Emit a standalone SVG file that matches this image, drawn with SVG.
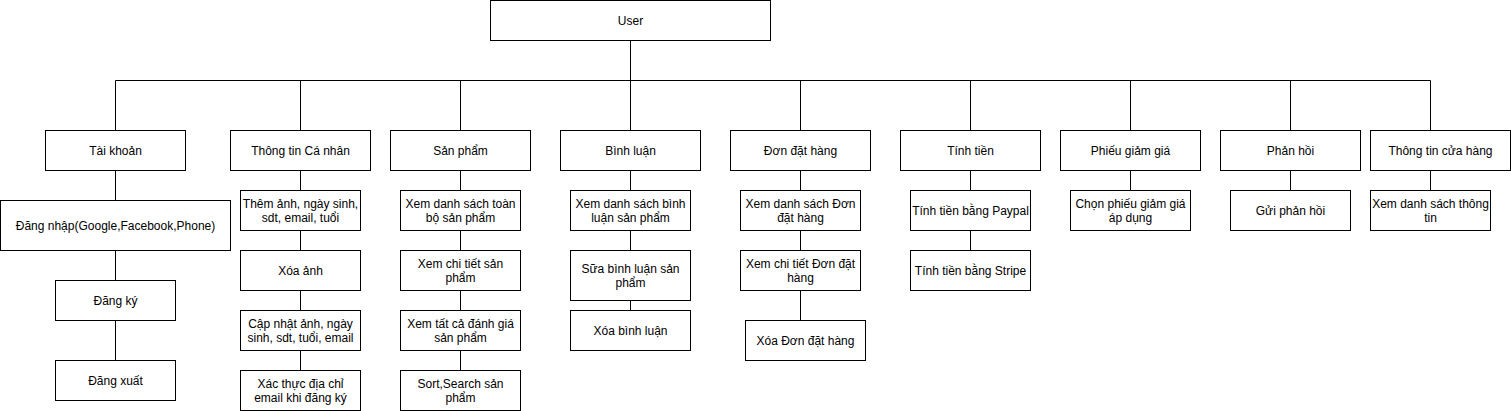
<svg xmlns="http://www.w3.org/2000/svg" width="1511" height="411" viewBox="0 0 1511 411">
<style>
rect{fill:#fff;stroke:#000;stroke-width:1}
text{font-family:"Liberation Sans",Arial,sans-serif;font-size:12px;fill:#000;text-anchor:middle}
.c{fill:none;stroke:#000;stroke-width:1}
</style>
<rect x="-1" y="-1" width="1513" height="413" style="stroke:none;fill:#fff"/>
<g transform="translate(0.5,0.5)">
<g id="connectors">
<path class="c" d="M630,40V80M115,80H1430M115,80V130M300,80V130M460,80V130M630,80V130M800,80V130M970,80V130M1130,80V130M1290,80V130M1430,80V130
M115,170V200M115,250V280M115,320V360
M300,170V190M300,230V250M300,290V310M300,350V370
M460,170V190M460,230V250M460,290V310M460,350V370
M630,170V190M630,230V250M630,300V310
M800,170V190M800,230V250M800,290V320
M970,170V190M970,230V250
M1130,170V190M1290,170V190M1430,170V190"/>
</g>
<g id="user"><rect x="490" y="0" width="280" height="40"/><text x="630" y="24">User</text></g>
<g id="tai-khoan"><rect x="45" y="130" width="140" height="40"/><text x="115" y="154">Tài khoản</text></g>
<g id="thong-tin-ca-nhan"><rect x="230" y="130" width="140" height="40"/><text x="300" y="154">Thông tin Cá nhân</text></g>
<g id="san-pham"><rect x="390" y="130" width="140" height="40"/><text x="460" y="154">Sản phẩm</text></g>
<g id="binh-luan"><rect x="560" y="130" width="140" height="40"/><text x="630" y="154">Bình luận</text></g>
<g id="don-dat-hang"><rect x="730" y="130" width="140" height="40"/><text x="800" y="154">Đơn đặt hàng</text></g>
<g id="tinh-tien"><rect x="900" y="130" width="140" height="40"/><text x="970" y="154">Tính tiền</text></g>
<g id="phieu-giam-gia"><rect x="1060" y="130" width="140" height="40"/><text x="1130" y="154">Phiếu giảm giá</text></g>
<g id="phan-hoi"><rect x="1220" y="130" width="140" height="40"/><text x="1290" y="154">Phản hồi</text></g>
<g id="thong-tin-cua-hang"><rect x="1370" y="130" width="140" height="40"/><text x="1440" y="154">Thông tin cửa hàng</text></g>

<g id="dang-nhap"><rect x="0" y="200" width="230" height="50"/><text x="115" y="229">Đăng nhập(Google,Facebook,Phone)</text></g>
<g id="dang-ky"><rect x="55" y="280" width="120" height="40"/><text x="115" y="304">Đăng ký</text></g>
<g id="dang-xuat"><rect x="55" y="360" width="120" height="40"/><text x="115" y="384">Đăng xuất</text></g>

<g id="them-anh"><rect x="240" y="190" width="120" height="40"/><text x="300" y="207">Thêm ảnh, ngày sinh,</text><text x="300" y="221.5">sdt, email, tuổi</text></g>
<g id="xoa-anh"><rect x="240" y="250" width="120" height="40"/><text x="300" y="274">Xóa ảnh</text></g>
<g id="cap-nhat"><rect x="240" y="310" width="120" height="40"/><text x="300" y="327">Cập nhật ảnh, ngày</text><text x="300" y="341.5">sinh, sdt, tuổi, email</text></g>
<g id="xac-thuc"><rect x="240" y="370" width="120" height="40"/><text x="300" y="387">Xác thực địa chỉ</text><text x="300" y="401.5">email khi đăng ký</text></g>

<g id="xem-ds-sp"><rect x="400" y="190" width="120" height="40"/><text x="460" y="207">Xem danh sách toàn</text><text x="460" y="221.5">bộ sản phẩm</text></g>
<g id="xem-ct-sp"><rect x="400" y="250" width="120" height="40"/><text x="460" y="267">Xem chi tiết sản</text><text x="460" y="281.5">phẩm</text></g>
<g id="xem-danh-gia"><rect x="400" y="310" width="120" height="40"/><text x="460" y="327">Xem tất cả đánh giá</text><text x="460" y="341.5">sản phẩm</text></g>
<g id="sort-search"><rect x="400" y="370" width="120" height="40"/><text x="460" y="387">Sort,Search sản</text><text x="460" y="401.5">phẩm</text></g>

<g id="xem-ds-bl"><rect x="570" y="190" width="120" height="40"/><text x="630" y="207">Xem danh sách bình</text><text x="630" y="221.5">luận sản phẩm</text></g>
<g id="sua-bl"><rect x="570" y="250" width="120" height="50"/><text x="630" y="272">Sữa bình luận sản</text><text x="630" y="286.5">phẩm</text></g>
<g id="xoa-bl"><rect x="570" y="310" width="120" height="40"/><text x="630" y="334">Xóa bình luận</text></g>

<g id="xem-ds-don"><rect x="740" y="190" width="120" height="40"/><text x="800" y="207">Xem danh sách Đơn</text><text x="800" y="221.5">đặt hàng</text></g>
<g id="xem-ct-don"><rect x="740" y="250" width="120" height="40"/><text x="800" y="267">Xem chi tiết Đơn đặt</text><text x="800" y="281.5">hàng</text></g>
<g id="xoa-don"><rect x="745" y="320" width="120" height="40"/><text x="805" y="344">Xóa Đơn đặt hàng</text></g>

<g id="paypal"><rect x="910" y="190" width="120" height="40"/><text x="970" y="214">Tính tiền bằng Paypal</text></g>
<g id="stripe"><rect x="910" y="250" width="120" height="40"/><text x="970" y="274">Tính tiền bằng Stripe</text></g>

<g id="chon-phieu"><rect x="1070" y="190" width="120" height="40"/><text x="1130" y="207">Chọn phiếu giảm giá</text><text x="1130" y="221.5">áp dụng</text></g>
<g id="gui-phan-hoi"><rect x="1230" y="190" width="120" height="40"/><text x="1290" y="214">Gửi phản hồi</text></g>
<g id="xem-ds-tt"><rect x="1370" y="190" width="120" height="40"/><text x="1430" y="207">Xem danh sách thông</text><text x="1430" y="221.5">tin</text></g>
</g>
</svg>
